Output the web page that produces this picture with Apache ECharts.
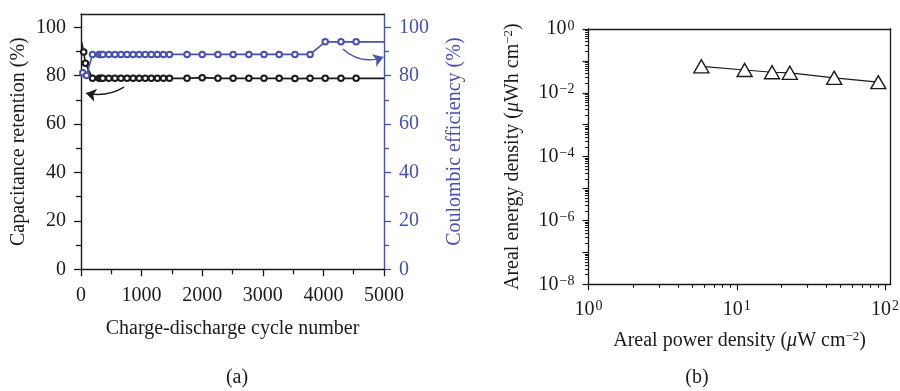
<!DOCTYPE html>
<html>
<head>
<meta charset="utf-8">
<script src="https://cdn.jsdelivr.net/npm/echarts@6/dist/echarts.min.js"></script>
<style>html,body{margin:0;padding:0;background:#fff}#c{width:900px;height:391px}</style>
</head>
<body>
<div id="c"></div>
<script>
// ---- Panel (a) data ----
const retentionCycles = [10, 45, 73, 190, 300, 330, 360, 460, 560, 660, 760, 860, 960, 1060, 1160, 1260, 1360, 1460, 1750, 2000, 2260, 2510, 2770, 3020, 3270, 3530, 3780, 4030, 4290, 4540, 5000];
const retention =       [94.0, 89.8, 85.1, 78.9, 78.9, 78.9, 78.9, 78.9, 78.9, 78.9, 78.9, 78.9, 78.9, 78.9, 78.9, 78.9, 78.9, 78.9, 78.9, 79.2, 78.9, 78.9, 78.9, 78.9, 78.9, 78.8, 78.9, 78.9, 78.9, 78.9, 78.9];
const efficiencyCycles = [30, 90, 190, 300, 330, 360, 460, 560, 660, 760, 860, 960, 1060, 1160, 1260, 1360, 1460, 1750, 2000, 2260, 2510, 2770, 3020, 3270, 3530, 3780, 4030, 4290, 4540, 5000];
const efficiency =       [81.2, 80.1, 88.8, 88.8, 88.8, 88.8, 88.8, 88.8, 88.8, 88.8, 88.8, 88.8, 88.8, 88.8, 88.8, 88.8, 88.8, 88.8, 88.8, 88.8, 88.8, 88.8, 88.8, 88.8, 88.8, 88.8, 94.0, 94.0, 94.0, 94.0];
const noMarkerRetention = [0, 30];   // indices drawn without marker
const noMarkerEfficiency = [29];
const arrowRetention = [[710, 75.3], [83, 72.8]];
const arrowEfficiency = [[4320, 91.0], [4990, 87.7]];
const cycleTicksMajor = [0, 1000, 2000, 3000, 4000, 5000];
const cycleTicksMinor = [500, 1500, 2500, 3500, 4500];
const percentTicksMajor = [0, 20, 40, 60, 80, 100];
const percentTicksMinor = [10, 30, 50, 70, 90];

// ---- Panel (b) data ----
const powerDensity =  [5.77, 11.3, 17.3, 22.8, 45.4, 90.1];
const energyDensity = [0.0677, 0.0519, 0.0442, 0.0424, 0.0295, 0.0215];
const powerTicksMajor = [1, 10, 100];
const energyTicksMajor = [1e-8, 1e-7, 1e-6, 1e-5, 1e-4, 1e-3, 1e-2, 1e-1, 1];
const energyLabelTicks = [1e-8, 1e-6, 1e-4, 1e-2, 1];

const powerTicksMinor = [];
for (let n = 0; n < 2; n++) for (let k = 2; k <= 9; k++) powerTicksMinor.push(+(k * Math.pow(10, n)).toPrecision(6));
const energyTicksMinor = [];
for (let n = -8; n < 0; n++) for (let k = 2; k <= 9; k++) energyTicksMinor.push(+(k * Math.pow(10, n)).toPrecision(6));

const BLACK = '#1a1a1a';
const BLUE = '#4a4fb0';
const FONT = 'Liberation Serif';
const FS = 20;

function supLabel(v) {
  const e = Math.round(Math.log10(v));
  return '{b|10}{s|' + (e < 0 ? '\u2212' + (-e) : e) + '}';
}
function plain(v) { return String(v); }
const supRich = {
  b: { fontFamily: FONT, fontSize: FS, color: BLACK },
  s: { fontFamily: FONT, fontSize: 14, color: BLACK, verticalAlign: 'top', padding: [0, 0, 0, 1] }
};
const nameRich = {
  i: { fontFamily: FONT, fontSize: FS, fontStyle: 'italic', color: BLACK },
  s: { fontFamily: FONT, fontSize: 13, color: BLACK, verticalAlign: 'top' }
};

const chart = echarts.init(document.getElementById('c'), null, { renderer: 'canvas' });

const gridA = { left: 81, top: 14, width: 303, height: 255.3, containLabel: false, outerBoundsMode: 'none' };
const gridB = { left: 588.5, top: 29, width: 302.2, height: 255.3, containLabel: false, outerBoundsMode: 'none' };

function lineOf(color, w) { return { show: true, onZero: false, lineStyle: { color: color, width: w } }; }
const noLabel = { show: false };
const noTick = { show: false };
const noSplit = { show: false };

const option = {
  animation: false,
  backgroundColor: '#fff',
  grid: [gridA, gridB],
  xAxis: [
    { // 0 panel a main
      gridIndex: 0, type: 'value', position: 'bottom', min: 0, max: 5000, interval: 1000,
      axisLine: lineOf(BLACK, 1.4),
      axisTick: { show: true, inside: false, length: 7, customValues: cycleTicksMajor, lineStyle: { color: BLACK, width: 1.3 } },
      axisLabel: { show: true, margin: 16, color: BLACK, fontFamily: FONT, fontSize: FS, customValues: cycleTicksMajor, formatter: plain },
      splitLine: noSplit,
      name: 'Charge-discharge cycle number', nameLocation: 'middle', nameGap: 49,
      nameTextStyle: { color: BLACK, fontFamily: FONT, fontSize: FS }
    },
    { // 1 panel a top frame
      gridIndex: 0, type: 'value', position: 'top', min: 0, max: 5000,
      axisLine: lineOf(BLACK, 1.4), axisTick: noTick, axisLabel: noLabel, splitLine: noSplit
    },
    { // 2 panel a minor ticks
      gridIndex: 0, type: 'value', position: 'bottom', min: 0, max: 5000,
      axisLine: { show: false, onZero: false },
      axisTick: { show: true, length: 5, customValues: cycleTicksMinor, lineStyle: { color: BLACK, width: 1.3 } },
      axisLabel: noLabel, splitLine: noSplit
    },
    { // 3 panel b main
      gridIndex: 1, type: 'log', logBase: 10, position: 'bottom', min: 1, max: 109.2,
      axisLine: lineOf(BLACK, 1.3),
      axisTick: { show: true, length: 6, customValues: powerTicksMajor, lineStyle: { color: BLACK, width: 1.2 } },
      axisLabel: { show: true, margin: 15, customValues: powerTicksMajor, formatter: supLabel, rich: supRich },
      splitLine: noSplit,
      name: 'Areal power density ({i|\u03bc}W cm{s|\u22122})', nameLocation: 'middle', nameGap: 46,
      nameTextStyle: { color: BLACK, fontFamily: FONT, fontSize: FS, rich: nameRich }
    },
    { // 4 panel b top frame
      gridIndex: 1, type: 'value', position: 'top', min: 0, max: 1,
      axisLine: lineOf(BLACK, 1.3), axisTick: noTick, axisLabel: noLabel, splitLine: noSplit
    },
    { // 5 panel b minor ticks
      gridIndex: 1, type: 'log', logBase: 10, position: 'bottom', min: 1, max: 109.2,
      axisLine: { show: false, onZero: false },
      axisTick: { show: true, length: 3.5, customValues: powerTicksMinor, lineStyle: { color: BLACK, width: 1.1 } },
      axisLabel: noLabel, splitLine: noSplit
    }
  ],
  yAxis: [
    { // 0 panel a left
      gridIndex: 0, type: 'value', position: 'left', min: 0, max: 105.5,
      axisLine: lineOf(BLACK, 1.4),
      axisTick: { show: true, length: 7, customValues: percentTicksMajor, lineStyle: { color: BLACK, width: 1.3 } },
      axisLabel: { show: true, margin: 15, color: BLACK, fontFamily: FONT, fontSize: FS, customValues: percentTicksMajor, formatter: plain },
      splitLine: noSplit,
      name: 'Capacitance retention (%)', nameLocation: 'middle', nameGap: 52, nameRotate: 90,
      nameTextStyle: { color: BLACK, fontFamily: FONT, fontSize: FS }
    },
    { // 1 panel a right (blue)
      gridIndex: 0, type: 'value', position: 'right', min: 0, max: 105.5,
      axisLine: lineOf(BLUE, 1.4),
      axisTick: { show: true, length: 7, customValues: percentTicksMajor, lineStyle: { color: BLUE, width: 1.3 } },
      axisLabel: { show: true, margin: 15, color: BLUE, fontFamily: FONT, fontSize: FS, customValues: percentTicksMajor, formatter: plain },
      splitLine: noSplit,
      name: 'Coulombic efficiency (%)', nameLocation: 'middle', nameGap: 61, nameRotate: 90,
      nameTextStyle: { color: BLUE, fontFamily: FONT, fontSize: FS }
    },
    { // 2 panel a left minor
      gridIndex: 0, type: 'value', position: 'left', min: 0, max: 105.5,
      axisLine: { show: false, onZero: false },
      axisTick: { show: true, length: 5, customValues: percentTicksMinor, lineStyle: { color: BLACK, width: 1.3 } },
      axisLabel: noLabel, splitLine: noSplit
    },
    { // 3 panel a right minor
      gridIndex: 0, type: 'value', position: 'right', min: 0, max: 105.5,
      axisLine: { show: false, onZero: false },
      axisTick: { show: true, length: 5, customValues: percentTicksMinor, lineStyle: { color: BLUE, width: 1.3 } },
      axisLabel: noLabel, splitLine: noSplit
    },
    { // 4 panel b left main
      gridIndex: 1, type: 'log', logBase: 10, position: 'left', min: 1e-8, max: 1,
      axisLine: lineOf(BLACK, 1.3),
      axisTick: { show: true, length: 6, customValues: energyTicksMajor, lineStyle: { color: BLACK, width: 1.2 } },
      axisLabel: { show: true, margin: 14, customValues: energyLabelTicks, formatter: supLabel, rich: supRich },
      splitLine: noSplit,
      name: 'Areal energy density ({i|\u03bc}Wh cm{s|\u22122})', nameLocation: 'middle', nameGap: 66, nameRotate: 90,
      nameTextStyle: { color: BLACK, fontFamily: FONT, fontSize: FS, rich: nameRich }
    },
    { // 5 panel b right frame
      gridIndex: 1, type: 'value', position: 'right', min: 0, max: 1,
      axisLine: lineOf(BLACK, 1.3), axisTick: noTick, axisLabel: noLabel, splitLine: noSplit
    },
    { // 6 panel b left minor
      gridIndex: 1, type: 'log', logBase: 10, position: 'left', min: 1e-8, max: 1,
      axisLine: { show: false, onZero: false },
      axisTick: { show: true, length: 3.5, customValues: energyTicksMinor, lineStyle: { color: BLACK, width: 1.0 } },
      axisLabel: noLabel, splitLine: noSplit
    }
  ],
  series: [
    {
      type: 'line', xAxisIndex: 0, yAxisIndex: 0, z: 3,
      data: retentionCycles.map((c, i) => noMarkerRetention.includes(i) ? { value: [c, retention[i]], symbol: 'none' } : [c, retention[i]]),
      symbol: 'emptyCircle', symbolSize: 5.5, showAllSymbol: true,
      lineStyle: { color: BLACK, width: 1.6 },
      itemStyle: { color: BLACK, borderWidth: 1.2 }
    },
    {
      type: 'line', xAxisIndex: 0, yAxisIndex: 1, z: 3,
      data: efficiencyCycles.map((c, i) => noMarkerEfficiency.includes(i) ? { value: [c, efficiency[i]], symbol: 'none' } : [c, efficiency[i]]),
      symbol: 'emptyCircle', symbolSize: 5.5, showAllSymbol: true,
      lineStyle: { color: BLUE, width: 1.6 },
      itemStyle: { color: BLUE, borderWidth: 1.2 }
    },
    {
      type: 'lines', coordinateSystem: 'cartesian2d', xAxisIndex: 0, yAxisIndex: 0, z: 4,
      symbol: ['none', 'arrow'], symbolSize: 10,
      lineStyle: { color: BLACK, width: 1.4, curveness: 0.2, opacity: 1 },
      data: [{ coords: arrowRetention }]
    },
    {
      type: 'lines', coordinateSystem: 'cartesian2d', xAxisIndex: 0, yAxisIndex: 1, z: 4,
      symbol: ['none', 'arrow'], symbolSize: 10,
      lineStyle: { color: BLUE, width: 1.4, curveness: -0.3, opacity: 1 },
      data: [{ coords: arrowEfficiency }]
    },
    {
      type: 'line', xAxisIndex: 3, yAxisIndex: 4, z: 3,
      data: powerDensity.map((p, i) => [p, energyDensity[i]]),
      symbol: 'triangle', symbolSize: [15, 13],
      lineStyle: { color: BLACK, width: 1.2 },
      itemStyle: { color: '#fff', borderColor: BLACK, borderWidth: 1.4 }
    }
  ],
  graphic: [
    { type: 'text', style: { text: '(a)', x: 237, y: 378, textAlign: 'center', textVerticalAlign: 'middle', fill: BLACK, font: FS + 'px "' + FONT + '"' } },
    { type: 'text', style: { text: '(b)', x: 697, y: 378, textAlign: 'center', textVerticalAlign: 'middle', fill: BLACK, font: FS + 'px "' + FONT + '"' } }
  ]
};
chart.setOption(option);
</script>
</body>
</html>
